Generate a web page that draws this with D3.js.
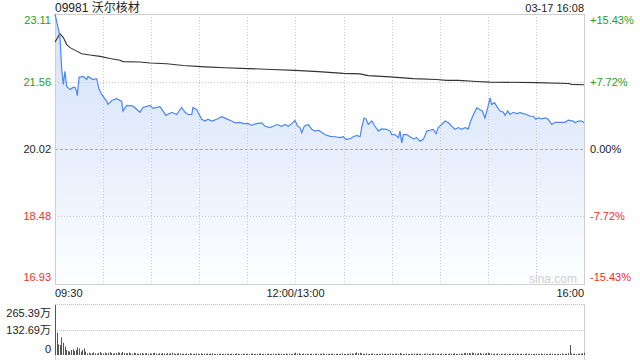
<!DOCTYPE html>
<html>
<head>
<meta charset="utf-8">
<script src="https://cdn.jsdelivr.net/npm/d3@7/dist/d3.min.js"></script>
<style>
  html, body { margin: 0; padding: 0; background: #fff; }
  svg { display: block; }
  text { font-family: Arial, "Liberation Sans", "Noto Sans CJK SC", sans-serif; }
</style>
</head>
<body>
<svg id="chart" width="640" height="360"></svg>
<script>
// ---------------- DATA ----------------
const stockTitle = "09981 沃尔核材";
const stampText = "03-17 16:08";
const preClose = 20.02;
const priceTicks = [23.11, 21.56, 20.02, 18.48, 16.93];
const pctTicks = ["+15.43%", "+7.72%", "0.00%", "-7.72%", "-15.43%"];
const timeLabels = ["09:30", "12:00/13:00", "16:00"];
const timeLabelMinutes = [0, 150, 330];
const volTicks = [265.39, 132.69, 0];
const volTickLabels = ["265.39万", "132.69万", "0"];

// price line: minute index since 09:30 (lunch removed) and price
const priceMinutes = [0,3.1,4.2,5.2,6.2,7.3,9.4,11.2,12.5,13.5,13.9,15,17.7,19.8,20.6,23.7,26,27.4,29.1,32.3,33,35.4,38.5,41.6,42.4,44.7,48.7,53,54.9,59.3,61.1,65.5,69.2,72.8,75.9,79,81.1,83,85.3,86.1,88.4,89.2,91.5,93.6,95.4,97.8,100.9,104,107.1,110.2,112.3,115.4,117.5,120.6,122.7,123.7,125.8,128.9,131,134.1,136.2,138.3,141.4,143.5,145.5,147.7,149.7,151.4,152.8,153.9,155.5,158,160.1,162.2,164.3,166.4,168.4,171.6,174.7,177.8,179.9,181.5,184,186.1,188.2,190.3,191.3,192.8,194,195.4,197.6,199.6,201.7,203.8,206.9,209,210,212.1,214.2,215.2,216.3,217.3,219.4,221.5,223.5,225.6,227.7,229.8,231.9,233.9,236,237.7,239.1,241.2,243.3,245.4,247.5,249.5,251.6,253.7,255.8,257.8,258.9,261,263.1,265.1,266.6,268.2,269.9,271.4,272.4,274.1,276.2,277.6,279.7,280.7,282.4,283.8,285.9,288,290.1,292.1,294.3,296.3,298.4,299.9,301.5,303.6,305.7,307.7,309.9,311.9,315,318.2,320.2,323.3,324.4,326.5,328.6,330];
const priceValues = [23.11,22.60,21.84,21.50,21.80,21.45,21.38,21.43,21.43,21.34,21.24,21.66,21.68,21.61,21.68,21.61,21.63,21.40,21.27,21.11,21.04,21.13,21.17,21.11,20.89,21.02,21.00,20.86,20.97,21.02,20.95,20.99,20.79,20.86,20.81,20.97,20.86,20.81,20.81,20.97,20.92,20.86,20.70,20.66,20.70,20.66,20.70,20.76,20.71,20.66,20.62,20.63,20.60,20.60,20.56,20.58,20.60,20.62,20.54,20.51,20.54,20.58,20.54,20.58,20.54,20.60,20.67,20.54,20.51,20.39,20.54,20.58,20.47,20.43,20.45,20.40,20.35,20.31,20.30,20.28,20.30,20.24,20.25,20.30,20.33,20.30,20.51,20.73,20.71,20.58,20.66,20.54,20.43,20.48,20.47,20.43,20.35,20.35,20.28,20.43,20.16,20.35,20.35,20.30,20.25,20.28,20.20,20.24,20.43,20.45,20.47,20.37,20.51,20.58,20.66,20.62,20.54,20.47,20.51,20.47,20.51,20.48,20.62,20.81,20.96,20.92,20.89,20.73,20.96,21.19,21.04,21.08,20.96,20.89,20.86,20.79,20.89,20.81,20.86,20.83,20.85,20.83,20.81,20.77,20.77,20.70,20.73,20.71,20.73,20.70,20.58,20.63,20.63,20.63,20.68,20.66,20.62,20.66,20.66,20.62];

// average price line
const avgMinutes = [0,3.1,5.2,7.3,9.4,13.5,16.7,21.8,28.1,34.3,40.5,42.4,53,59.3,69.7,80,93.6,106,120.6,135.2,149.7,164.3,179.9,190.3,195.4,209,223.5,238.1,244.3,251.6,263.1,271.4,300.5,320.2,322.3,330];
const avgValues = [22.47,22.66,22.57,22.41,22.34,22.26,22.20,22.17,22.14,22.09,22.05,22.02,22.01,21.99,21.97,21.93,21.90,21.88,21.86,21.84,21.82,21.79,21.75,21.74,21.70,21.67,21.63,21.61,21.59,21.59,21.565,21.55,21.54,21.52,21.50,21.49];

// volume per minute (万)
const volumes = [
 265,118,57,53,94,65,44,27,21,18,27,30,21,27,41,35,18,27,35,18,
 9,12,8,10,14,9,7,11,16,10,8,13,9,12,15,10,7,9,11,14,
 12,9,16,11,8,10,13,9,7,12,10,8,6,9,11,7,8,10,6,9,
 7,10,12,8,6,9,7,11,8,6,10,7,9,12,8,6,7,9,8,6,
 7,5,8,6,9,7,5,6,8,7,5,9,6,7,5,8,6,7,9,6,
 5,7,6,8,5,6,7,5,8,6,7,5,6,9,7,5,6,8,5,7,
 6,5,7,8,6,5,7,6,9,5,6,7,5,8,6,5,7,6,5,8,
 6,7,5,6,8,5,7,6,5,9,12,7,10,6,5,8,6,7,5,6,
 7,5,6,8,5,6,7,9,5,6,5,7,6,8,5,6,7,5,6,8,
 6,5,7,6,9,8,6,10,14,9,12,8,7,6,9,5,6,7,8,6,
 5,7,6,5,8,6,7,5,6,9,6,5,7,8,6,11,7,5,6,8,
 6,5,7,6,8,5,9,6,7,5,6,8,7,6,5,7,9,6,5,7,
 6,8,5,7,6,5,8,6,7,9,6,5,7,8,6,10,12,9,11,8,
 13,10,8,7,9,11,6,8,7,10,12,9,8,6,7,5,8,6,7,5,
 6,8,5,7,6,5,7,6,8,5,6,7,5,6,8,5,7,6,5,6,
 7,5,6,8,5,7,6,5,6,8,7,5,6,5,7,6,8,5,6,7,
 9,53,8,6,7,5,6,8,7,9,12
];

// ---------------- LAYOUT ----------------
const L = 55, R = 584, T = 14, B = 284;
const VT = 305, VB = 355;
const green = "#1e9e1e", red = "#f0302a", dark = "#222";

const svg = d3.select("#chart");
const x = d3.scaleLinear().domain([0, 330]).range([L, R]);
const y = d3.scaleLinear().domain([priceTicks[4], priceTicks[0]]).range([B, T]);
const yv = d3.scaleLinear().domain([0, volTicks[0]]).range([VB, VT]);

// gradient
const defs = svg.append("defs");
const grad = defs.append("linearGradient").attr("id", "fillg")
  .attr("gradientUnits", "userSpaceOnUse").attr("x1", 0).attr("y1", T).attr("x2", 0).attr("y2", B);
grad.append("stop").attr("offset", "0%").attr("stop-color", "#d3e2fa");
grad.append("stop").attr("offset", "50%").attr("stop-color", "#e6eefc");
grad.append("stop").attr("offset", "100%").attr("stop-color", "#fdfeff");

// area
const pts = priceMinutes.map((m, i) => [m, priceValues[i]]);
svg.append("path").datum(pts)
  .attr("d", d3.area().x(d => x(d[0])).y0(B).y1(d => y(d[1])))
  .attr("fill", "url(#fillg)");

// grid: horizontal
priceTicks.forEach((v, i) => {
  if (i === 0 || i === 4) return;
  const yy = Math.round(y(v)) + 0.5;
  svg.append("line").attr("x1", L).attr("x2", R).attr("y1", yy).attr("y2", yy)
    .attr("stroke", v === preClose ? "#a8a8a8" : "#c8c8c8")
    .attr("stroke-dasharray", v === preClose ? "3,2" : "1,2");
});
// grid: vertical every 30 min
d3.range(30, 330, 30).forEach(m => {
  const xx = Math.round(x(m)) + 0.5;
  svg.append("line").attr("x1", xx).attr("x2", xx).attr("y1", T).attr("y2", B)
    .attr("stroke", "#c8c8c8").attr("stroke-dasharray", "1,2");
});

// frame
svg.append("rect").attr("x", L + 0.5).attr("y", T + 0.5).attr("width", R - L).attr("height", B - T)
  .attr("fill", "none").attr("stroke", "#cfcfcf");

// watermark
svg.append("text").attr("x", 553).attr("y", 283).attr("text-anchor", "middle")
  .attr("font-size", 12).attr("fill", "#d0d0d0").text("sina.com");

// avg line
const avgPts = avgMinutes.map((m, i) => [m, avgValues[i]]);
svg.append("path").datum(avgPts)
  .attr("d", d3.line().x(d => x(d[0])).y(d => y(d[1])))
  .attr("fill", "none").attr("stroke", "#333").attr("stroke-width", 1.1);

// price line
svg.append("path").datum(pts)
  .attr("d", d3.line().x(d => x(d[0])).y(d => y(d[1])))
  .attr("fill", "none").attr("stroke", "#4a88ee").attr("stroke-width", 1.2);

// left labels
const lblOffset = [6, 0, 0, 0, -7];
priceTicks.forEach((v, i) => {
  const col = v > preClose ? green : (v < preClose ? red : dark);
  svg.append("text").attr("x", 51).attr("y", y(v) + lblOffset[i])
    .attr("dy", "0.35em").attr("text-anchor", "end").attr("font-size", 11)
    .attr("fill", col).text(v.toFixed(2));
  svg.append("text").attr("x", 590).attr("y", y(v) + lblOffset[i])
    .attr("dy", "0.35em").attr("text-anchor", "start").attr("font-size", 11)
    .attr("fill", col).text(pctTicks[i]);
});

// title & stamp
svg.append("text").attr("x", 55).attr("y", 12).attr("font-size", 12).attr("fill", dark).text(stockTitle);
svg.append("text").attr("x", 584).attr("y", 12).attr("text-anchor", "end").attr("font-size", 11).attr("fill", dark).text(stampText);

// time labels
timeLabels.forEach((t, i) => {
  const anchor = i === 0 ? "start" : (i === timeLabels.length - 1 ? "end" : "middle");
  svg.append("text").attr("x", x(timeLabelMinutes[i])).attr("y", 297)
    .attr("text-anchor", anchor).attr("font-size", 11).attr("fill", dark).text(t);
});

// volume panel
svg.append("line").attr("x1", L).attr("x2", R).attr("y1", VT - 0.5).attr("y2", VT - 0.5)
  .attr("stroke", "#c0c0c0").attr("stroke-dasharray", "1,1");
svg.append("line").attr("x1", L).attr("x2", R).attr("y1", Math.round(yv(volTicks[1])) + 0.5).attr("y2", Math.round(yv(volTicks[1])) + 0.5)
  .attr("stroke", "#c0c0c0").attr("stroke-dasharray", "1,1");
svg.append("line").attr("x1", L + 0.5).attr("x2", L + 0.5).attr("y1", VT - 1).attr("y2", 360).attr("stroke", "#cfcfcf");
svg.append("line").attr("x1", R + 0.5).attr("x2", R + 0.5).attr("y1", VT - 1).attr("y2", 360).attr("stroke", "#cfcfcf");

svg.append("g").selectAll("rect").data(volumes).join("rect")
  .attr("x", (d, i) => Math.round(x(i)))
  .attr("y", d => yv(d))
  .attr("width", 1)
  .attr("height", d => VB - yv(d))
  .attr("fill", "#555");

const volOffset = [8, 0, -6];
volTicks.forEach((v, i) => {
  svg.append("text").attr("x", 51).attr("y", yv(v) + volOffset[i]).attr("dy", "0.35em")
    .attr("text-anchor", "end").attr("font-size", 11).attr("fill", dark).text(volTickLabels[i]);
});
</script>
</body>
</html>
